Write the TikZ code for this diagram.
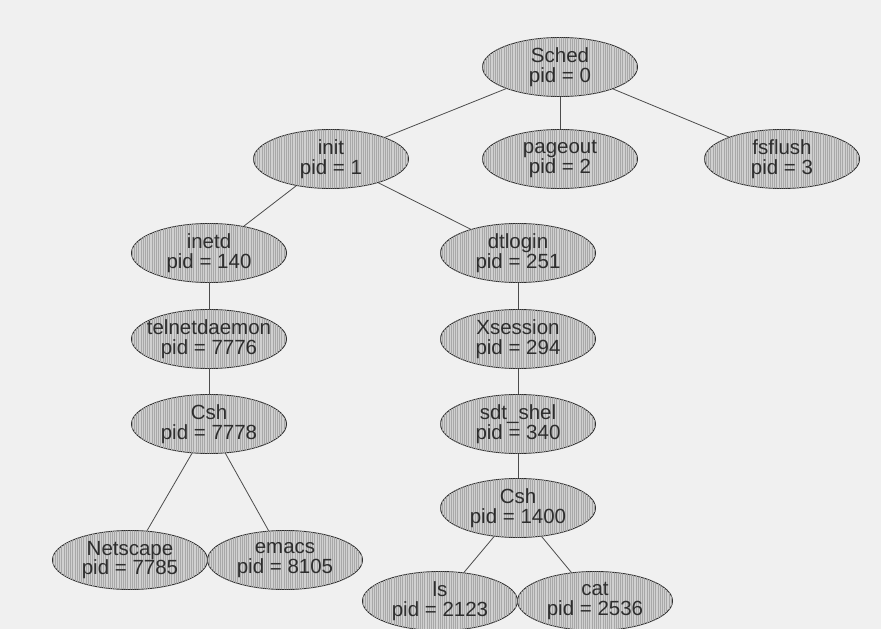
\documentclass[tikz,border=0pt]{standalone}
\usepackage{fontspec}
\setmainfont{Liberation Sans}
\usetikzlibrary{shapes.geometric,patterns.meta}
\definecolor{pagebg}{RGB}{240,240,240}
\definecolor{inkgray}{RGB}{45,45,45}
\definecolor{fillgray}{RGB}{208,208,208}
\definecolor{stripegray}{RGB}{168,168,168}
\tikzset{
  proc/.style={ellipse, draw=inkgray, line width=0.9bp, fill=fillgray,
    postaction={pattern={Lines[angle=90,distance=2.2bp,line width=0.6bp]}, pattern color=stripegray},
    minimum width=155bp, minimum height=59bp, inner xsep=-30bp, inner ysep=0pt,
    align=center, text=inkgray, font=\fontsize{20.5bp}{19.5bp}\selectfont},
  link/.style={draw=inkgray!85, line width=0.8bp}
}
\begin{document}
\begin{tikzpicture}[x=1bp,y=-1bp]
\fill[pagebg] (0,0) rectangle (881,629);
\useasboundingbox (0,0) rectangle (881,629);
\node[proc] (sched) at (560,67) {Sched\\pid = 0};
\node[proc] (init) at (331,159) {init\\pid = 1};
\node[proc] (pageout) at (560,159) {pageout\\pid = 2};
\node[proc] (fsflush) at (782,159) {fsflush\\pid = 3};
\node[proc] (inetd) at (209,253) {inetd\\pid = 140};
\node[proc] (dtlogin) at (518,253) {dtlogin\\pid = 251};
\node[proc] (telnet) at (209,339) {telnetdaemon\\pid = 7776};
\node[proc] (xsession) at (518,339) {Xsession\\pid = 294};
\node[proc] (csha) at (209,424) {Csh\\pid = 7778};
\node[proc] (sdt) at (518,424) {sdt\_shel\\pid = 340};
\node[proc] (cshb) at (518,508) {Csh\\pid = 1400};
\node[proc] (netscape) at (130,560) {Netscape\\pid = 7785};
\node[proc] (emacs) at (285,560) {emacs\\pid = 8105};
\node[proc] (ls) at (440,601) {ls\\pid = 2123};
\node[proc] (cat) at (595,601) {cat\\pid = 2536};
\draw[link] (sched) -- (init);
\draw[link] (sched) -- (pageout);
\draw[link] (sched) -- (fsflush);
\draw[link] (init) -- (inetd);
\draw[link] (init) -- (dtlogin);
\draw[link] (inetd) -- (telnet);
\draw[link] (telnet) -- (csha);
\draw[link] (csha) -- (netscape);
\draw[link] (csha) -- (emacs);
\draw[link] (dtlogin) -- (xsession);
\draw[link] (xsession) -- (sdt);
\draw[link] (sdt) -- (cshb);
\draw[link] (cshb) -- (ls);
\draw[link] (cshb) -- (cat);
\end{tikzpicture}
\end{document}
